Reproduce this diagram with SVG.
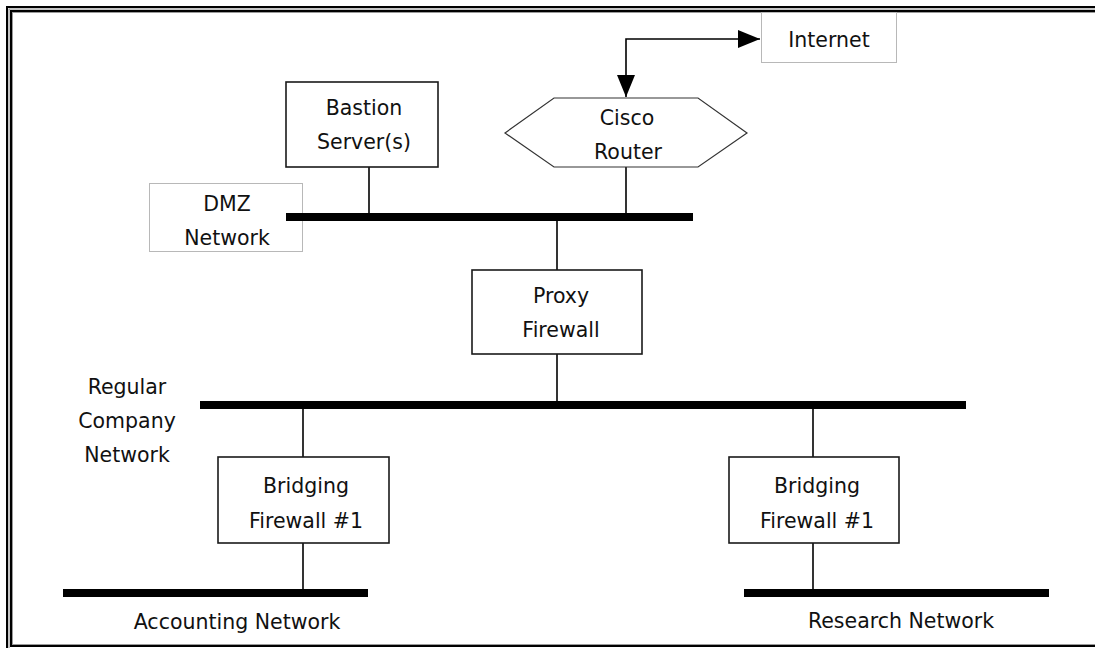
<svg xmlns="http://www.w3.org/2000/svg" width="1095" height="648" viewBox="0 0 1095 648">
  <style>
    .box { fill: #ffffff; stroke: #1a1a1a; stroke-width: 1.6; }
    .label-box { fill: #ffffff; stroke: #b8b8b8; stroke-width: 1; }
    .router { fill: #ffffff; stroke: #333333; stroke-width: 1.2; }
    .bar { stroke: #000000; stroke-width: 8; fill: none; }
    .link { stroke: #000000; stroke-width: 1.6; fill: none; }
    text { font-family: "DejaVu Sans", "Liberation Sans", sans-serif; font-size: 20.5px; fill: #111111; text-anchor: middle; }
  </style>
  <defs>
    <marker id="arrow" markerUnits="userSpaceOnUse" markerWidth="24" markerHeight="24" viewBox="-22 -12 24 24" refX="0" refY="0" orient="auto-start-reverse">
      <path d="M-22,-9 L0,0 L-22,9 Z" fill="#000000"/>
    </marker>
  </defs>

  <!-- page background and double frame -->
  <rect x="0" y="0" width="1095" height="648" fill="#ffffff"/>
  <g id="frame" fill="none">
    <rect x="7" y="7" width="1110" height="660" stroke="#000000" stroke-width="2"/>
    <rect x="9" y="9" width="1110" height="660" stroke="#8a8a8a" stroke-width="1"/>
    <rect x="11" y="11" width="1110" height="635" stroke="#000000" stroke-width="2"/>
    <rect x="12.5" y="12.5" width="1110" height="632" stroke="#9a9a9a" stroke-width="1"/>
  </g>

  <!-- label boxes sit underneath the segments that run into them -->
  <g id="internet">
    <rect class="label-box" x="761.5" y="12.5" width="135" height="50"/>
    <text x="829" y="47">Internet</text>
  </g>

  <g id="dmz-network">
    <rect class="label-box" x="149.5" y="183.5" width="153" height="68"/>
    <text x="227" y="211">DMZ</text>
    <text x="227" y="245">Network</text>
  </g>

  <!-- connectors and network segments -->
  <g id="connectors">
    <path class="link" d="M626,97 L626,39 L760,39" marker-start="url(#arrow)" marker-end="url(#arrow)"/>
    <line class="link" x1="369" y1="167" x2="369" y2="217"/>
    <line class="link" x1="626" y1="167" x2="626" y2="217"/>
    <line class="link" x1="557" y1="217" x2="557" y2="270"/>
    <line class="link" x1="557" y1="354" x2="557" y2="405"/>
    <line class="link" x1="303" y1="405" x2="303" y2="457"/>
    <line class="link" x1="303" y1="543" x2="303" y2="593"/>
    <line class="link" x1="813" y1="405" x2="813" y2="457"/>
    <line class="link" x1="813" y1="543" x2="813" y2="593"/>
    <line class="bar" x1="286" y1="217" x2="693" y2="217"/>
    <line class="bar" x1="200" y1="405" x2="966" y2="405"/>
    <line class="bar" x1="63" y1="593" x2="368" y2="593"/>
    <line class="bar" x1="744" y1="593" x2="1049" y2="593"/>
  </g>

  <g id="cisco-router">
    <polygon class="router" points="505,133 554,98 698,98 747,133 698,167 554,167"/>
    <text x="627" y="125">Cisco</text>
    <text x="628" y="159">Router</text>
  </g>

  <g id="bastion-server">
    <rect class="box" x="286" y="82" width="152" height="85"/>
    <text x="364" y="115">Bastion</text>
    <text x="364" y="149">Server(s)</text>
  </g>

  <g id="proxy-firewall">
    <rect class="box" x="472" y="270" width="170" height="84"/>
    <text x="561" y="303">Proxy</text>
    <text x="561" y="337">Firewall</text>
  </g>

  <g id="regular-company-network">
    <text x="127" y="394">Regular</text>
    <text x="127" y="428">Company</text>
    <text x="127" y="462">Network</text>
  </g>

  <g id="bridging-firewall-left">
    <rect class="box" x="218" y="457" width="171" height="86"/>
    <text x="306" y="493">Bridging</text>
    <text x="306" y="528">Firewall #1</text>
  </g>

  <g id="bridging-firewall-right">
    <rect class="box" x="729" y="457" width="170" height="86"/>
    <text x="817" y="493">Bridging</text>
    <text x="817" y="528">Firewall #1</text>
  </g>

  <g id="accounting-network">
    <text x="237" y="629">Accounting Network</text>
  </g>

  <g id="research-network">
    <text x="901" y="628">Research Network</text>
  </g>
</svg>
